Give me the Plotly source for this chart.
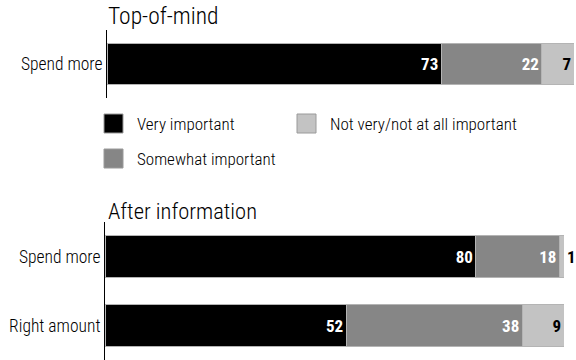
import plotly.graph_objects as go

W, H = 576, 360
FONT = "Roboto Condensed, Liberation Sans Narrow, Arial Narrow, sans-serif"
LIGHT = 300

series_names = ["Very important", "Somewhat important", "Not very/not at all important"]
colors = ["#000000", "#868686", "#c3c3c3"]
label_colors = ["white", "white", "black"]

top_title = "Top-of-mind"
top_categories = ["Spend more"]
top_values = [[73], [22], [7]]

bottom_title = "After information"
bottom_categories = ["Spend more", "Right amount"]
bottom_values = [[80, 52], [18, 38], [1, 9]]


def px_x(x):
    return x / W


def px_y(y):
    return 1 - y / H


fig = go.Figure()

for i, name in enumerate(series_names):
    fig.add_trace(go.Bar(
        y=top_categories, x=top_values[i], orientation="h", name=name,
        marker=dict(color=colors[i], line=dict(color="#b4b4b4", width=1)),
        width=0.6, text=[str(v) for v in top_values[i]],
        textposition="inside", insidetextanchor="end",
        textfont=dict(family=FONT, size=17, color=label_colors[i], weight="bold"),
        constraintext="none", cliponaxis=False,
        xaxis="x", yaxis="y", showlegend=False, hoverinfo="skip",
    ))
    positions = ["outside" if v < 3 else "inside" for v in bottom_values[i]]
    tcolors = ["black" if p == "outside" else label_colors[i] for p in positions]
    fig.add_trace(go.Bar(
        y=bottom_categories, x=bottom_values[i], orientation="h", name=name,
        marker=dict(color=colors[i], line=dict(color="#b4b4b4", width=1)),
        width=0.6, text=[str(v) for v in bottom_values[i]],
        textposition=positions, insidetextanchor="end",
        textfont=dict(family=FONT, size=17, color=tcolors, weight="bold"),
        constraintext="none", cliponaxis=False,
        xaxis="x2", yaxis="y2", showlegend=False, hoverinfo="skip",
    ))

axis_common = dict(showgrid=False, zeroline=False)
tickfont = dict(family=FONT, size=17.5, weight=LIGHT, color="black")
fig.update_layout(
    width=W, height=H, margin=dict(l=0, r=0, t=0, b=0),
    paper_bgcolor="white", plot_bgcolor="white",
    barmode="stack", font=dict(family=FONT, size=17, color="black"),
    xaxis=dict(domain=[px_x(107), px_x(574)], range=[0, 102], visible=False,
               anchor="y", **axis_common),
    yaxis=dict(domain=[px_y(98), px_y(30)], anchor="x", autorange="reversed",
               showline=True, linecolor="black", linewidth=1, ticks="",
               ticklabelstandoff=0, tickfont=tickfont, **axis_common),
    xaxis2=dict(domain=[px_x(105), px_x(564)], range=[0, 99], visible=False,
                anchor="y2", **axis_common),
    yaxis2=dict(domain=[px_y(360), px_y(222)], anchor="x2", autorange="reversed",
                showline=True, linecolor="black", linewidth=1, ticks="",
                ticklabelstandoff=0, tickfont=tickfont, **axis_common),
)

# panel titles
fig.add_annotation(text=top_title, x=px_x(106), y=px_y(32), xref="paper", yref="paper",
                   xanchor="left", yanchor="bottom", showarrow=False,
                   font=dict(family=FONT, size=23.5, color="black", weight=LIGHT))
fig.add_annotation(text=bottom_title, x=px_x(106), y=px_y(226), xref="paper", yref="paper",
                   xanchor="left", yanchor="bottom", showarrow=False,
                   font=dict(family=FONT, size=22.5, color="black", weight=LIGHT))

# legend (manual, two columns)
legend_pos = [(104, 114), (104, 149), (297, 114)]
for i, name in enumerate(series_names):
    x0, y0 = legend_pos[i]
    fig.add_shape(type="rect", xref="paper", yref="paper",
                  x0=px_x(x0), x1=px_x(x0 + 19), y0=px_y(y0 + 19), y1=px_y(y0),
                  fillcolor=colors[i], line=dict(color="#9a9a9a", width=1))
    fig.add_annotation(text=name, x=px_x(x0 + 31), y=px_y(y0 + 10), xref="paper", yref="paper",
                       xanchor="left", yanchor="middle", showarrow=False,
                       font=dict(family=FONT, size=17, color="black", weight=LIGHT))

fig.write_html("out.html")
